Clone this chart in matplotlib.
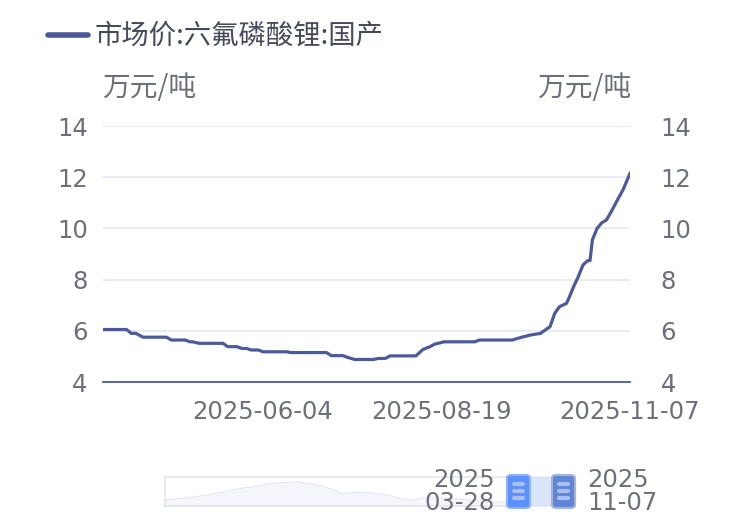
import matplotlib
matplotlib.use("Agg")
import matplotlib.pyplot as plt
from matplotlib.patches import FancyBboxPatch, Rectangle
import numpy as np
import pandas as pd

plt.rcParams['font.family'] = ['Noto Sans CJK SC', 'DejaVu Sans']

series_name = "市场价:六氟磷酸锂:国产"
unit_label = "万元/吨"

dates = ["2025-03-28", "2025-04-07", "2025-04-09", "2025-04-11", "2025-04-14",
         "2025-04-24", "2025-04-26", "2025-05-02", "2025-05-04", "2025-05-05",
         "2025-05-08", "2025-05-18", "2025-05-20", "2025-05-24", "2025-05-26",
         "2025-05-28", "2025-05-30", "2025-06-02", "2025-06-04", "2025-06-14",
         "2025-06-16", "2025-07-01", "2025-07-03", "2025-07-08", "2025-07-10",
         "2025-07-13", "2025-07-21", "2025-07-23", "2025-07-26", "2025-07-28",
         "2025-08-08", "2025-08-11", "2025-08-14", "2025-08-16", "2025-08-20",
         "2025-09-02", "2025-09-04", "2025-09-18", "2025-09-22", "2025-09-26",
         "2025-09-30", "2025-10-03", "2025-10-04", "2025-10-06", "2025-10-08",
         "2025-10-11", "2025-10-12", "2025-10-14", "2025-10-16", "2025-10-18",
         "2025-10-20", "2025-10-21", "2025-10-22", "2025-10-24", "2025-10-26",
         "2025-10-28", "2025-10-30", "2025-11-02", "2025-11-04", "2025-11-07"]
values = [6.05, 6.05, 5.90, 5.90, 5.75,
          5.75, 5.64, 5.64, 5.57, 5.57,
          5.51, 5.51, 5.38, 5.38, 5.31,
          5.31, 5.25, 5.25, 5.18, 5.18,
          5.15, 5.15, 5.03, 5.03, 4.96,
          4.88, 4.88, 4.92, 4.92, 5.02,
          5.02, 5.27, 5.38, 5.48, 5.57,
          5.57, 5.64, 5.64, 5.75, 5.84,
          5.90, 6.10, 6.16, 6.68, 6.94,
          7.07, 7.27, 7.72, 8.11, 8.57,
          8.74, 8.74, 9.55, 10.00, 10.22,
          10.33, 10.65, 11.17, 11.50, 12.15]

x_ticks = ["2025-06-04", "2025-08-19", "2025-11-07"]
y_ticks = [4, 6, 8, 10, 12, 14]
range_start = ["2025", "03-28"]
range_end = ["2025", "11-07"]

# long-history overview shown in the slider (relative heights)
slider_history = [0.22, 0.28, 0.39, 0.56, 0.67, 0.80, 0.83, 0.72, 0.44, 0.48,
                  0.39, 0.20, 0.31, 0.26, 0.19, 0.14, 0.11, 0.17, 0.17]

LINE = "#4c5a9c"
TXT = "#6e7079"
GRID = "#e6e8f2"

W, H = 742, 532
fig = plt.figure(figsize=(W / 100, H / 100), dpi=100)

def fx(x):
    return x / W

def fy(y):
    return 1 - y / H

ax = fig.add_axes([fx(103), fy(382), fx(630) - fx(103), fy(126) - fy(382)])
d = pd.to_datetime(dates)
ax.plot(d, values, color=LINE, lw=2.3, solid_joinstyle='round', zorder=3)
ax.set_xlim(pd.Timestamp("2025-03-28"), pd.Timestamp("2025-11-07"))
ax.set_ylim(4, 14)
ax.set_yticks(y_ticks)
ax.set_xticks(pd.to_datetime(x_ticks))
ax.set_xticklabels(x_ticks)
ax.grid(axis='y', color=GRID, lw=1.2, zorder=0)
for s in ['top', 'left', 'right']:
    ax.spines[s].set_visible(False)
ax.spines['bottom'].set_color(LINE)
ax.spines['bottom'].set_linewidth(1.3)
ax.tick_params(axis='both', length=0, labelsize=17.5, colors=TXT)
ax.tick_params(axis='x', pad=13)
ax.tick_params(axis='y', pad=11)
for lab in ax.get_yticklabels() + ax.get_xticklabels():
    lab.set_family(['DejaVu Sans'])

ax2 = ax.twinx()
ax2.set_ylim(4, 14)
ax2.set_yticks(y_ticks)
for s in ax2.spines.values():
    s.set_visible(False)
ax2.tick_params(axis='y', length=0, labelsize=17.5, colors=TXT, pad=22)
for lab in ax2.get_yticklabels():
    lab.set_family(['DejaVu Sans'])

# legend
fig.add_artist(plt.Line2D([fx(48), fx(88)], [fy(35), fy(35)], color=LINE, lw=4,
                          solid_capstyle='round'))
fig.text(fx(95), fy(36), series_name, fontsize=19.7, color="#464a5a",
         va='center', ha='left')

# unit labels
fig.text(fx(102), fy(88), unit_label, fontsize=20, color=TXT, va='center', ha='left')
fig.text(fx(631), fy(88), unit_label, fontsize=20, color=TXT, va='center', ha='right')

# slider
sx0, sx1, sy0, sy1 = 165, 563, 477, 506
sax = fig.add_axes([fx(sx0), fy(sy1), fx(sx1) - fx(sx0), fy(sy0) - fy(sy1)])
hx = np.linspace(0, 1, len(slider_history))
sax.fill_between(hx, 0, slider_history, color="#f5f6fb", zorder=1)
sax.plot(hx, slider_history, color="#e6e9f1", lw=0.8, zorder=2)
sax.set_xlim(0, 1)
sax.set_ylim(0, 1)
sax.set_xticks([])
sax.set_yticks([])
for s in sax.spines.values():
    s.set_color("#e4e6ee")
    s.set_linewidth(1.2)

# selected region
fig.add_artist(Rectangle((fx(530), fy(506)), fx(552) - fx(530), fy(477) - fy(506),
                         facecolor="#dbe5fa", edgecolor='none', zorder=4))

def handle(x0, x1, face, edge):
    p = FancyBboxPatch((fx(x0), fy(508)), fx(x1) - fx(x0), fy(475) - fy(508),
                       boxstyle="round,pad=0,rounding_size=0.006",
                       facecolor=face, edgecolor=edge, lw=1.5, zorder=5,
                       transform=fig.transFigure)
    fig.add_artist(p)
    for yy in (484, 491, 498):
        fig.add_artist(plt.Line2D([fx(x0 + 7), fx(x1 - 7)], [fy(yy), fy(yy)],
                                  color="#a9c0f0", lw=3, solid_capstyle='round',
                                  zorder=6))

handle(507, 530, "#5b8ff9", "#8fb0f7")
handle(552, 575, "#5f86d6", "#a3b3d9")

fig.text(fx(495), fy(480), range_start[0], fontsize=17.5, color=TXT, ha='right',
         va='center', family=['DejaVu Sans'])
fig.text(fx(495), fy(503), range_start[1], fontsize=17.5, color=TXT, ha='right',
         va='center', family=['DejaVu Sans'])
fig.text(fx(587), fy(480), range_end[0], fontsize=17.5, color=TXT, ha='left',
         va='center', family=['DejaVu Sans'])
fig.text(fx(587), fy(503), range_end[1], fontsize=17.5, color=TXT, ha='left',
         va='center', family=['DejaVu Sans'])

fig.savefig("out.png", dpi=100)
